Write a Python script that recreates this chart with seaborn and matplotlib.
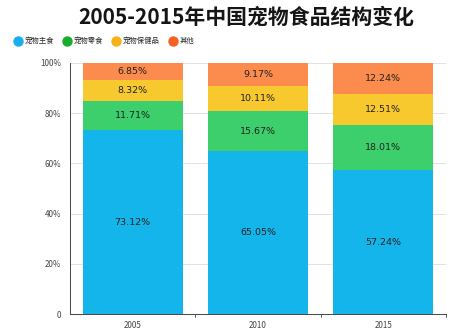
import matplotlib
matplotlib.use("Agg")
import matplotlib.pyplot as plt
from matplotlib.lines import Line2D
import numpy as np
import pandas as pd
import seaborn as sns

years = ["2005", "2010", "2015"]
series_names = ["宠物主食", "宠物零食", "宠物保健品", "其他"]
staple = [73.12, 65.05, 57.24]
snacks = [11.71, 15.67, 18.01]
health = [8.32, 10.11, 12.51]
other = [6.85, 9.17, 12.24]

bar_colors = ["#13b5ea", "#3ccf6b", "#f8c92e", "#fb8c4d"]
legend_colors = ["#18aef0", "#18ad2c", "#f9b214", "#f3621f"]

sns.set_theme(style="white")
plt.rcParams["font.family"] = ["Noto Sans CJK SC", "DejaVu Sans"]

values = np.array([staple, snacks, health, other])
cum = np.cumsum(values, axis=0)

fig = plt.figure(figsize=(4.7, 3.33), dpi=100)
ax = fig.add_axes([0.149, 0.057, 0.80, 0.754])

# Draw the stacked bars from the top segment down so each layer covers the previous
for i in range(3, -1, -1):
    df = pd.DataFrame({"year": years, "top": cum[i]})
    sns.barplot(data=df, x="year", y="top", color=bar_colors[i], width=0.8,
                saturation=1, ax=ax, zorder=2, edgecolor="none", linewidth=0)

# Segment labels
for j in range(len(years)):
    for i in range(4):
        lower = cum[i][j] - values[i][j]
        ax.text(j, lower + values[i][j] / 2, f"{values[i][j]:.2f}%",
                ha="center", va="center", fontsize=6.8, color="#222222",
                family=["DejaVu Sans"], zorder=3)

ax.set_xlim(-0.5, 2.5)
ax.set_ylim(0, 100)
ax.set_yticks([0, 20, 40, 60, 80, 100])
ax.set_yticklabels(["0", "20%", "40%", "60%", "80%", "100%"])
ax.set_xlabel("")
ax.set_ylabel("")
ax.tick_params(axis="both", labelsize=5.8, colors="#444444", length=3,
               width=0.6, direction="out")
ax.tick_params(axis="x", length=0, pad=5)
for tx in [0.5, 1.5, 2.5]:
    ax.plot([tx, tx], [0, -1.2], color="#444444", lw=0.6, clip_on=False)

ax.grid(axis="y", color="#dddddd", lw=0.6, zorder=0)
ax.set_axisbelow(True)
for s in ["top", "right"]:
    ax.spines[s].set_visible(False)
ax.spines["left"].set_color("#444444")
ax.spines["bottom"].set_color("#444444")
ax.spines["left"].set_linewidth(0.7)
ax.spines["bottom"].set_linewidth(0.7)

fig.text(0.523, 0.948, "2005-2015年中国宠物食品结构变化", ha="center", va="center",
         fontsize=15, fontweight="bold", color="#151515")

handles = [Line2D([0], [0], marker="o", linestyle="", markersize=6.5,
                  markerfacecolor=c, markeredgecolor=c) for c in legend_colors]
fig.legend(handles, series_names, loc="center left", bbox_to_anchor=(0.025, 0.876),
           ncol=4, frameon=False, fontsize=5.3, handletextpad=0.5,
           columnspacing=1.4, handlelength=0.8, borderaxespad=0)

fig.savefig("out.png", dpi=100)
